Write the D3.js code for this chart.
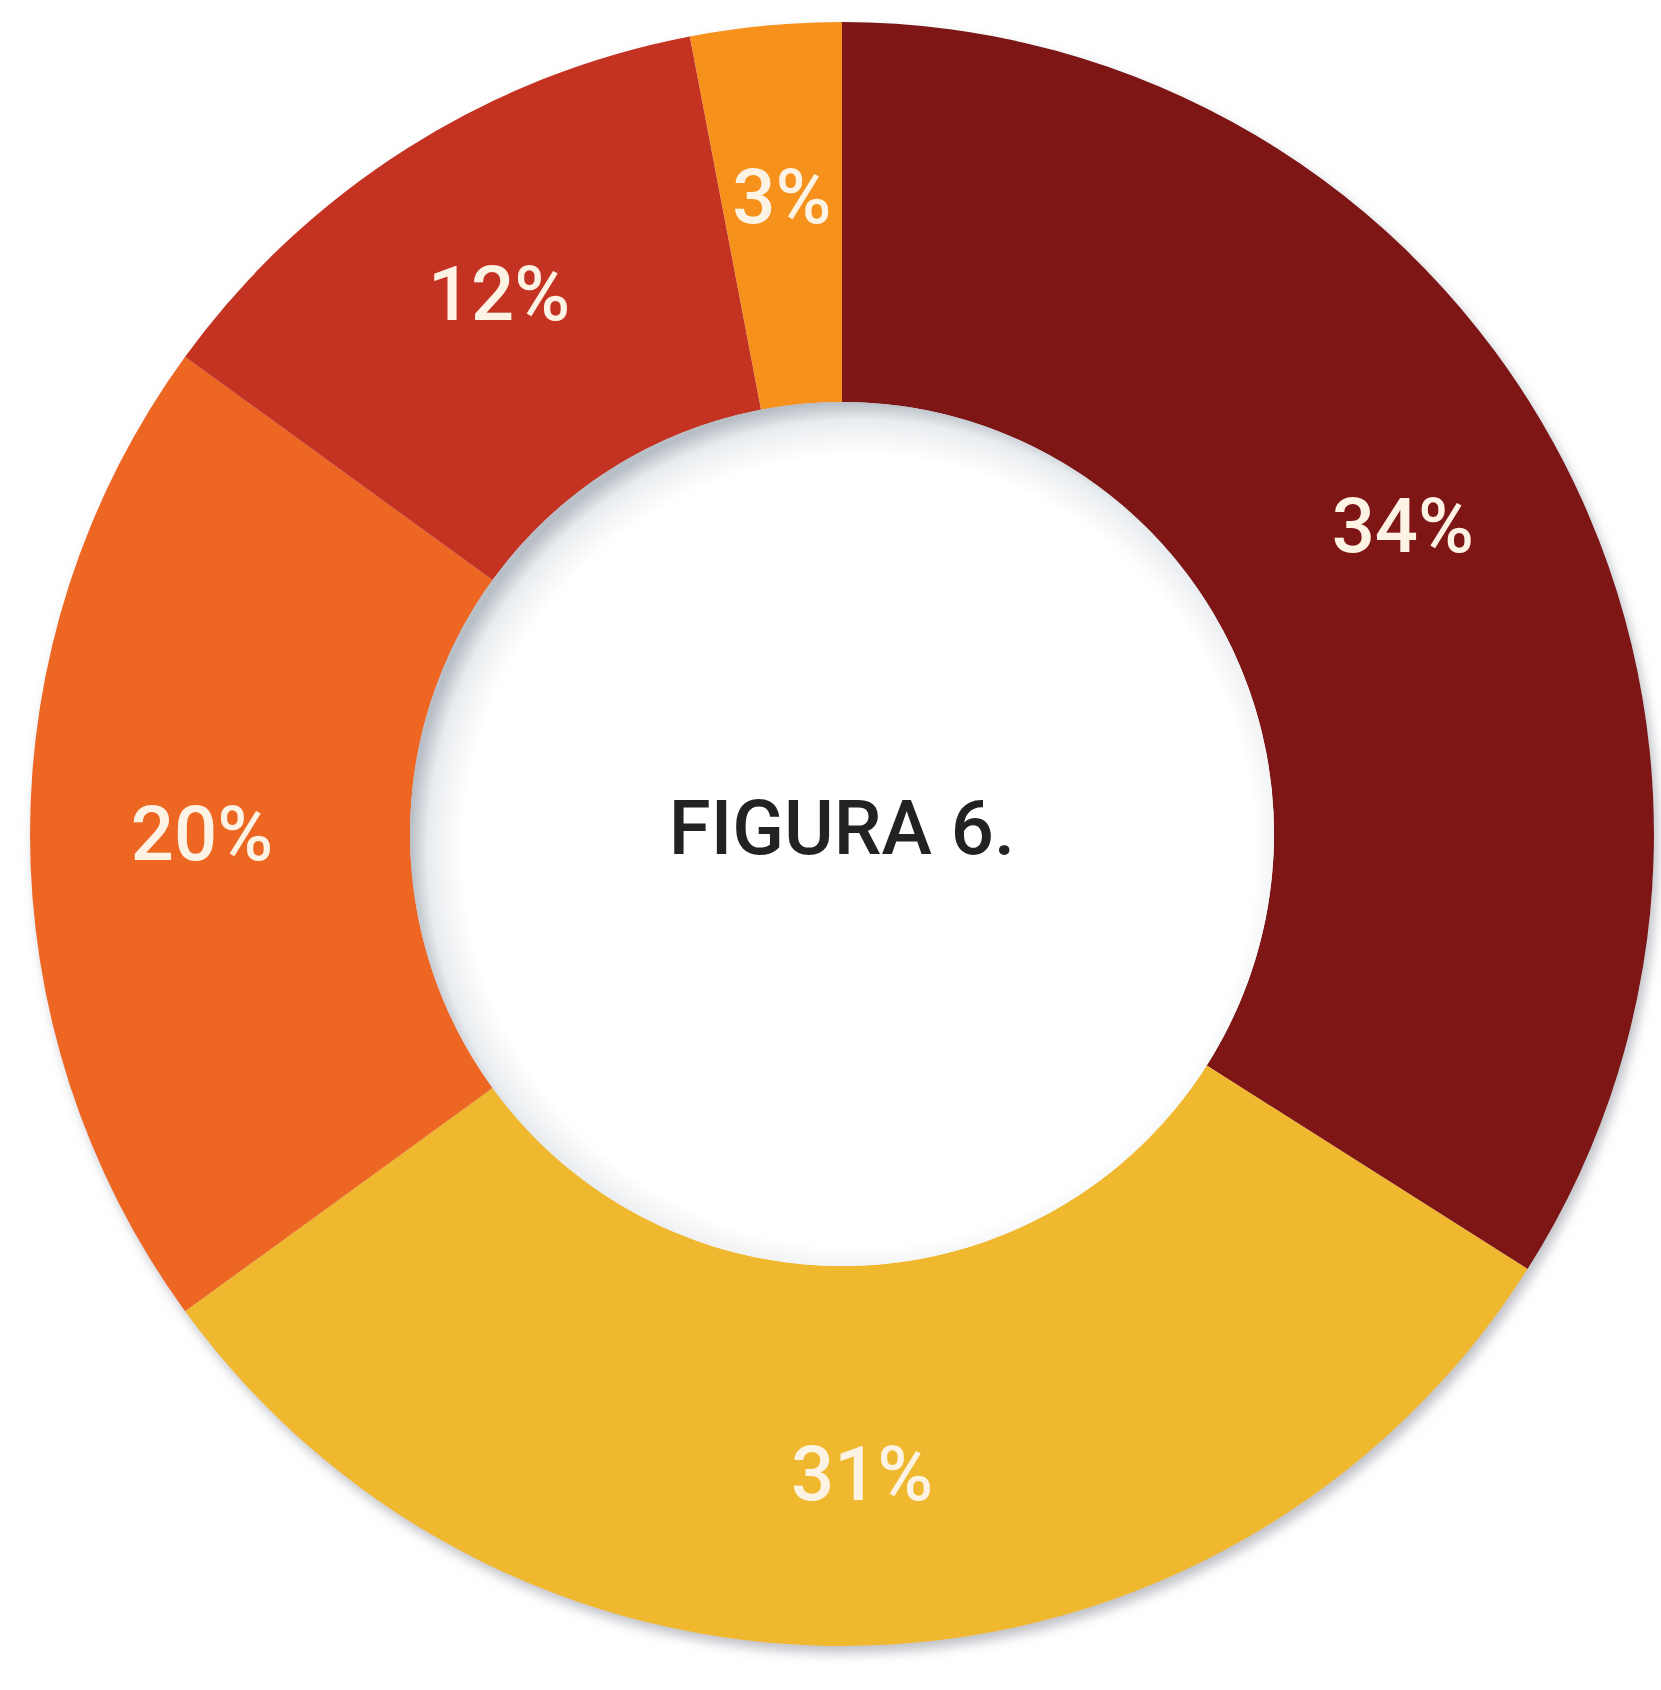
<!DOCTYPE html>
<html>
<head>
<meta charset="utf-8">
<script src="https://cdn.jsdelivr.net/npm/d3@7"></script>
<style>
  html, body { margin: 0; padding: 0; background: #fff; }
  svg { display: block; }
</style>
</head>
<body>
<svg id="chart"></svg>
<script>
// slices go clockwise from 12 o'clock
const labels = ["34%", "31%", "20%", "12%", "3%"];
const values = [34, 31, 20, 12, 3];
const colors = ["#7e1416", "#efb82e", "#ed6623", "#c43323", "#f6921f"];
const title = "FIGURA 6.";

const width = 1661;
const height = 1690;
const cx = 842, cy = 834;
const outerR = 812;
const innerR = 432;
const labelR = 640;

const svg = d3.select("#chart")
  .attr("width", width)
  .attr("height", height);

const defs = svg.append("defs");

// soft shadow under the ring
const shadow = defs.append("filter")
  .attr("id", "ringShadow")
  .attr("x", "-10%").attr("y", "-10%")
  .attr("width", "120%").attr("height", "120%");
shadow.append("feDropShadow")
  .attr("dx", 4).attr("dy", 7)
  .attr("stdDeviation", 6)
  .attr("flood-color", "#8a8f99")
  .attr("flood-opacity", 0.55);

// hole looks slightly sunken, grey at the rim
const holeGrad = defs.append("radialGradient")
  .attr("id", "holeGrad")
  .attr("cx", "52%").attr("cy", "52%").attr("r", "52%");
holeGrad.append("stop").attr("offset", "0.88").attr("stop-color", "#ffffff");
holeGrad.append("stop").attr("offset", "0.96").attr("stop-color", "#e9ecef");
holeGrad.append("stop").attr("offset", "1").attr("stop-color", "#b9bfc6");

const g = svg.append("g")
  .attr("transform", "translate(" + cx + "," + cy + ")");

const pie = d3.pie()
  .sort(null)
  .value(d => d);

const arc = d3.arc()
  .innerRadius(innerR)
  .outerRadius(outerR);

const labelArc = d3.arc()
  .innerRadius(labelR)
  .outerRadius(labelR);

const arcs = pie(values);

const ring = g.append("g").attr("filter", "url(#ringShadow)");
ring.selectAll("path")
  .data(arcs)
  .enter()
  .append("path")
  .attr("d", arc)
  .attr("fill", (d, i) => colors[i]);

g.append("circle")
  .attr("r", innerR)
  .attr("fill", "url(#holeGrad)");

g.selectAll("text.pct")
  .data(arcs)
  .enter()
  .append("text")
  .attr("class", "pct")
  .attr("transform", d => "translate(" + labelArc.centroid(d) + ")")
  .attr("text-anchor", "middle")
  .attr("dominant-baseline", "central")
  .attr("font-family", "Roboto, sans-serif")
  .attr("font-weight", 500)
  .attr("font-size", 76)
  .attr("fill", "#fdf3e4")
  .text((d, i) => labels[i]);

g.append("text")
  .attr("x", 0)
  .attr("y", -6)
  .attr("text-anchor", "middle")
  .attr("dominant-baseline", "central")
  .attr("font-family", "Roboto, sans-serif")
  .attr("font-weight", 500)
  .attr("font-size", 76)
  .attr("fill", "#222222")
  .text(title);
</script>
</body>
</html>
